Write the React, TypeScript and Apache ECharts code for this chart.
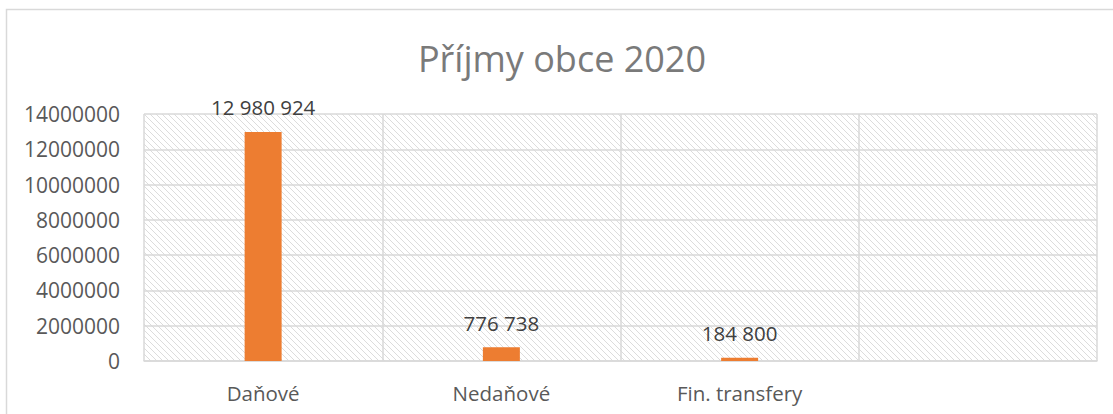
import React, { useEffect, useRef } from "react";
import * as echarts from "echarts";

const categories = ["Daňové", "Nedaňové", "Fin. transfery", ""];
const values = [12980924, 776738, 184800, null];
const yTicks = { min: 0, max: 14000000, interval: 2000000 };
const titleText = "Příjmy obce 2020";

function fmt(v: number): string {
  return String(Math.round(v)).replace(/\B(?=(\d{3})+(?!\d))/g, " ");
}

function makeHatch(): HTMLCanvasElement {
  const s = 6;
  const c = document.createElement("canvas");
  c.width = s;
  c.height = s;
  const ctx = c.getContext("2d")!;
  ctx.fillStyle = "#ffffff";
  ctx.fillRect(0, 0, s, s);
  ctx.strokeStyle = "#dcdcdc";
  ctx.lineWidth = 1;
  ctx.beginPath();
  ctx.moveTo(-1, -1);
  ctx.lineTo(s + 1, s + 1);
  ctx.moveTo(-1, s - 1);
  ctx.lineTo(1, s + 1);
  ctx.moveTo(s - 1, -1);
  ctx.lineTo(s + 1, 1);
  ctx.stroke();
  return c;
}

export default function App() {
  const ref = useRef<HTMLDivElement>(null);
  useEffect(() => {
    if (!ref.current) return;
    const chart = echarts.init(ref.current, null, { renderer: "svg" });
    const font = "'Open Sans', 'Noto Sans', sans-serif";
    chart.setOption({
      animation: false,
      backgroundColor: "#ffffff",
      textStyle: { fontFamily: font },
      graphic: [
        {
          type: "rect",
          shape: { x: 6.5, y: 9.5, width: 1200, height: 500 },
          style: { fill: "none", stroke: "#d9d9d9", lineWidth: 1.5 },
          silent: true,
          z: 0,
        },
        {
          type: "text",
          x: 562,
          y: 58,
          style: {
            text: titleText,
            fontFamily: font,
            fontSize: 36,
            fontWeight: 400,
            fill: "#7a7a7a",
            textAlign: "center",
            textVerticalAlign: "middle",
          },
          silent: true,
        },
      ],
      grid: {
        left: 144,
        right: 16,
        top: 114,
        bottom: 53,
        show: true,
        borderWidth: 0,
        backgroundColor: { image: makeHatch(), repeat: "repeat" },
      },
      xAxis: {
        type: "category",
        data: categories,
        axisLine: { show: true, lineStyle: { color: "#d9d9d9", width: 1.5 } },
        axisTick: { show: false },
        splitLine: { show: true, interval: 0, lineStyle: { color: "#d9d9d9", width: 1.5 } },
        axisLabel: { color: "#595959", fontSize: 20.5, margin: 21, interval: 0, fontFamily: font },
      },
      yAxis: {
        type: "value",
        min: yTicks.min,
        max: yTicks.max,
        interval: yTicks.interval,
        axisLine: { show: false },
        axisTick: { show: false },
        splitLine: { show: true, lineStyle: { color: "#d9d9d9", width: 1.5 } },
        axisLabel: {
          color: "#595959",
          fontSize: 21,
          margin: 24,
          fontFamily: font,
          formatter: (v: number) => String(v),
        },
      },
      series: [
        {
          type: "bar",
          data: values,
          barWidth: 37,
          itemStyle: { color: "#ED7D31" },
          label: {
            show: true,
            position: "top",
            distance: 14,
            color: "#404040",
            fontSize: 20.5,
            fontFamily: font,
            formatter: (p: any) => (p.value == null ? "" : fmt(p.value)),
          },
        },
      ],
    });
    return () => chart.dispose();
  }, []);
  return (
    <div
      ref={ref}
      style={{ position: "fixed", left: 0, top: 0, width: 1113, height: 414 }}
    />
  );
}
